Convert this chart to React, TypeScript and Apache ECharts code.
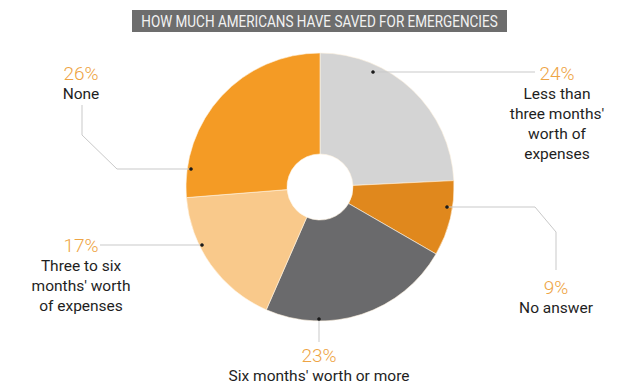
import React, { useEffect, useRef } from "react";
import * as echarts from "echarts";

const title = "HOW MUCH AMERICANS HAVE SAVED FOR EMERGENCIES";
const categories = [
  "Less than\nthree months'\nworth of\nexpenses",
  "No answer",
  "Six months' worth or more",
  "Three to six\nmonths' worth\nof expenses",
  "None",
];
const values = [24, 9, 23, 17, 26];
const colors = ["#d4d4d4", "#e0881d", "#6a6a6c", "#f9c98b", "#f49b25"];

// annotation layout (label anchors and leader lines)
const labelPos: [number, number][] = [
  [557, 62],
  [556, 276],
  [319, 344],
  [81, 234],
  [81, 62],
];
const leaders: [number, number][][] = [
  [[373, 72], [535, 72]],
  [[447, 207], [535, 207], [556, 232], [556, 270]],
  [[319, 319], [319, 342]],
  [[202, 245], [100, 245]],
  [[191, 169], [117, 169], [82, 135], [82, 105]],
];

export default function App() {
  const ref = useRef<HTMLDivElement>(null);
  useEffect(() => {
    if (!ref.current) return;
    const chart = echarts.init(ref.current, undefined, { renderer: "svg" });
    const graphics: any[] = [
      {
        type: "rect",
        shape: { x: 132, y: 10, width: 375, height: 22 },
        style: { fill: "#6d6d6d" },
        silent: true,
      },
      {
        type: "text",
        x: 319.5,
        y: 21.5,
        scaleX: 0.845,
        style: {
          text: title,
          fill: "#f2f2f2",
          font: "16px Roboto",
          align: "center",
          verticalAlign: "middle",
        },
        silent: true,
      },
    ];
    leaders.forEach((pts) => {
      graphics.push({
        type: "polyline",
        shape: { points: pts },
        style: { stroke: "#c9c9c9", lineWidth: 1, fill: null },
        z: 10,
        silent: true,
      });
      graphics.push({
        type: "circle",
        shape: { cx: pts[0][0], cy: pts[0][1], r: 1.8 },
        style: { fill: "#1a1a1a" },
        z: 11,
        silent: true,
      });
    });
    chart.setOption({
      animation: false,
      graphic: graphics,
      series: [
        {
          type: "pie",
          center: [320, 187],
          radius: [33, 134],
          startAngle: 90,
          clockwise: true,
          avoidLabelOverlap: false,
          itemStyle: { borderColor: "#fff4e0", borderWidth: 0.6 },
          labelLine: { show: false },
          label: {
            show: true,
            formatter: (p: any) => `{p|${p.value}%}\n{n|${p.name}}`,
            rich: {
              p: {
                fontFamily: "Roboto",
                fontSize: 19,
                fontWeight: 300,
                color: "#eea444",
                lineHeight: 22,
                align: "center",
              },
              n: {
                fontFamily: "Roboto",
                fontSize: 15.5,
                color: "#1e1e1e",
                lineHeight: 20,
                align: "center",
              },
            },
          },
          labelLayout: (params: any) => {
            const pos = labelPos[params.dataIndex];
            return {
              x: pos[0],
              y: pos[1],
              align: "center",
              verticalAlign: "top",
            };
          },
          data: categories.map((c, i) => ({
            name: c,
            value: values[i],
            itemStyle: { color: colors[i] },
          })),
        },
      ],
    });
    return () => chart.dispose();
  }, []);
  return (
    <div
      ref={ref}
      style={{ position: "fixed", left: 0, top: 0, width: 644, height: 387, background: "#fff" }}
    />
  );
}
